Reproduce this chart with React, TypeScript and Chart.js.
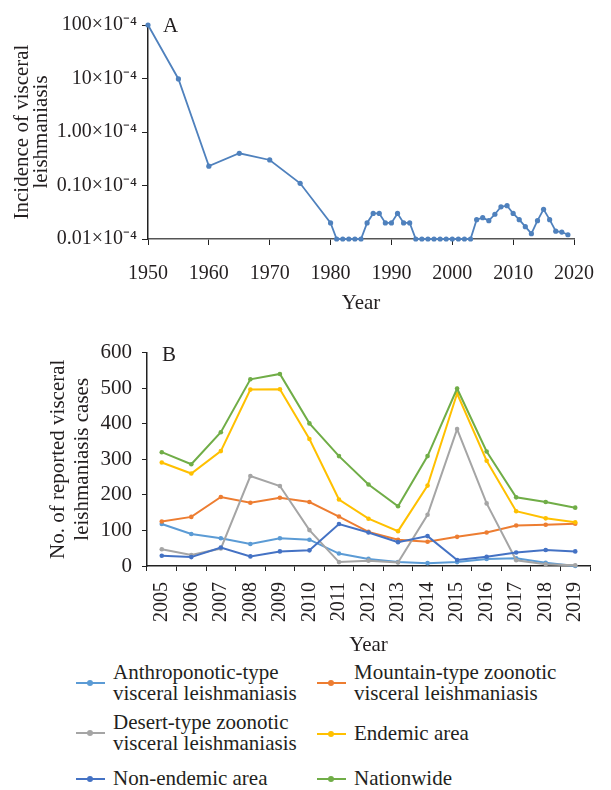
import React, { useEffect, useRef } from 'react';
import { Chart, registerables } from 'chart.js';

Chart.register(...registerables);

const FONT = '"Liberation Serif", "Times New Roman", serif';
const TEXT = '#231f20';
const AXIS = '#222222';

// ---------- Panel A data ----------
const yearsA = [
  1950, 1955, 1960, 1965, 1970, 1975, 1980,
  1981, 1982, 1983, 1984, 1985,
  1986, 1987, 1988, 1989, 1990, 1991, 1992, 1993,
  1994, 1995, 1996, 1997, 1998, 1999, 2000, 2001, 2002, 2003,
  2004, 2005, 2006, 2007, 2008, 2009, 2010, 2011, 2012, 2013, 2014, 2015, 2016, 2017, 2018, 2019,
];
// incidence in units of 1/10 000
const incidenceA = [
  100, 9.8, 0.23, 0.40, 0.30, 0.11, 0.02,
  0, 0, 0, 0, 0,
  0.02, 0.03, 0.03, 0.02, 0.02, 0.03, 0.02, 0.02,
  0, 0, 0, 0, 0, 0, 0, 0, 0, 0,
  0.023, 0.025, 0.022, 0.029, 0.040, 0.042, 0.030, 0.023, 0.017, 0.0126, 0.022, 0.036, 0.023, 0.014, 0.0135, 0.012,
];
const logTickValues = [0.01, 0.1, 1, 10, 100];
const logTickLabels = ['0.01×10⁻⁴', '0.10×10⁻⁴', '1.00×10⁻⁴', '10×10⁻⁴', '100×10⁻⁴'];
const LOG_MIN = 0.01;
const LOG_MAX = 100;
const xMinA = 1950;
const xMaxA = 2020;
const yTitleA = ['Incidence of visceral', 'leishmaniasis'];

// ---------- Panel B data ----------
const yearsB = ['2005', '2006', '2007', '2008', '2009', '2010', '2011', '2012', '2013', '2014', '2015', '2016', '2017', '2018', '2019'];
const anthroponotic = [118, 90, 78, 62, 78, 74, 35, 20, 11, 8, 11, 20, 22, 9, 0];
const mountainType = [125, 138, 194, 178, 192, 180, 139, 96, 74, 68, 82, 94, 114, 116, 119];
const desertType = [47, 31, 49, 253, 225, 101, 11, 15, 10, 144, 385, 176, 16, 5, 2];
const endemicArea = [291, 260, 323, 496, 497, 357, 187, 133, 98, 226, 485, 296, 154, 134, 123];
const nonEndemicArea = [29, 25, 52, 27, 41, 44, 118, 94, 67, 84, 17, 26, 38, 45, 41];
const nationwide = [320, 286, 376, 525, 540, 401, 309, 229, 168, 309, 499, 322, 193, 180, 164];
const yTitleB = ['No. of reported visceral', 'leishmaniasis cases'];

const seriesNames = [
  ['Anthroponotic-type', 'visceral leishmaniasis'],
  ['Mountain-type zoonotic', 'visceral leishmaniasis'],
  ['Desert-type zoonotic', 'visceral leishmaniasis'],
  ['Endemic area'],
  ['Non-endemic area'],
  ['Nationwide'],
];
const seriesColors = ['#5B9BD5', '#ED7D31', '#A5A5A5', '#FFC000', '#4472C4', '#70AD47'];
const seriesValues = [anthroponotic, mountainType, desertType, endemicArea, nonEndemicArea, nationwide];

function panelLabel(text: string, dx: number, dy: number) {
  return {
    id: 'panelLabel' + text,
    afterDraw(chart: any) {
      const { ctx, chartArea } = chart;
      ctx.save();
      ctx.font = `21px ${FONT}`;
      ctx.fillStyle = TEXT;
      ctx.textBaseline = 'middle';
      ctx.textAlign = 'left';
      ctx.fillText(text, chartArea.left + dx, chartArea.top + dy);
      ctx.restore();
    },
  };
}

// vertical (rotated) multi-line y-axis title; xs are the line centres from the canvas' left edge
function yTitle(lines: string[], xs: number[]) {
  return {
    id: 'yTitle',
    afterDraw(chart: any) {
      const { ctx, chartArea } = chart;
      const cy = (chartArea.top + chartArea.bottom) / 2;
      ctx.save();
      ctx.font = `21px ${FONT}`;
      ctx.fillStyle = TEXT;
      ctx.textBaseline = 'middle';
      ctx.textAlign = 'center';
      lines.forEach((line, i) => {
        ctx.save();
        ctx.translate(xs[i], cy);
        ctx.rotate(-Math.PI / 2);
        ctx.fillText(line, 0, 0);
        ctx.restore();
      });
      ctx.restore();
    },
  };
}

function ChartA() {
  const ref = useRef<HTMLCanvasElement>(null);
  useEffect(() => {
    const data = yearsA.map((y, i) => ({ x: y, y: incidenceA[i] > 0 ? incidenceA[i] : LOG_MIN }));
    const chart = new Chart(ref.current as HTMLCanvasElement, {
      type: 'line',
      data: {
        datasets: [
          {
            data,
            borderColor: '#4F81BD',
            backgroundColor: '#4F81BD',
            borderWidth: 1.8,
            pointRadius: 2.6,
            pointBorderWidth: 0,
            pointHoverRadius: 0,
            tension: 0,
            clip: false as any,
          },
        ],
      },
      options: {
        responsive: false,
        animation: false,
        events: [],
        layout: { padding: { left: 0, right: 21, top: 25, bottom: 0 } },
        plugins: { legend: { display: false }, tooltip: { enabled: false } },
        scales: {
          x: {
            type: 'linear',
            min: xMinA,
            max: xMaxA,
            afterFit: (s: any) => { s.height = 91; },
            afterBuildTicks: (s: any) => {
              const t = [];
              for (let v = xMinA; v <= xMaxA; v += 10) t.push({ value: v });
              s.ticks = t;
            },
            ticks: {
              callback: (v: any) => String(v),
              color: TEXT,
              font: { family: FONT, size: 20 },
              padding: 17,
              maxRotation: 0,
            },
            grid: { display: true, drawOnChartArea: false, drawTicks: true, tickLength: 6, color: AXIS },
            border: { display: true, color: '#555', width: 1.5 },
            title: {
              display: true,
              text: 'Year',
              color: TEXT,
              font: { family: FONT, size: 21 },
              padding: { top: 0, bottom: 14 },
            },
          },
          y: {
            type: 'logarithmic',
            min: LOG_MIN,
            max: LOG_MAX,
            afterFit: (s: any) => { s.width = 148; },
            afterBuildTicks: (s: any) => { s.ticks = logTickValues.map((v) => ({ value: v })); },
            ticks: {
              callback: (v: any) => {
                const i = logTickValues.findIndex((t) => Math.abs(Math.log10(t) - Math.log10(v)) < 1e-6);
                return i >= 0 ? logTickLabels[i] : '';
              },
              color: TEXT,
              font: { family: FONT, size: 20 },
              padding: 5,
            },
            grid: { display: true, drawOnChartArea: false, drawTicks: true, tickLength: 6, color: AXIS },
            border: { display: true, color: AXIS, width: 1.5 },
            title: { display: false },
          },
        },
      },
      plugins: [panelLabel('A', 15, 1), yTitle(yTitleA, [22, 41])],
    } as any);
    return () => chart.destroy();
  }, []);
  return <canvas ref={ref} width={611} height={330} style={{ display: 'block', width: 611, height: 330 }} />;
}

function ChartB() {
  const ref = useRef<HTMLCanvasElement>(null);
  useEffect(() => {
    const datasets = seriesValues.map((vals, i) => ({
      label: seriesNames[i].join(' '),
      data: vals,
      borderColor: seriesColors[i],
      backgroundColor: seriesColors[i],
      borderWidth: 2,
      pointRadius: 2.3,
      pointBorderWidth: 0,
      pointHoverRadius: 0,
      tension: 0,
      clip: false as any,
      order: 6 - i,
    }));
    const chart = new Chart(ref.current as HTMLCanvasElement, {
      type: 'line',
      data: { labels: yearsB, datasets },
      options: {
        responsive: false,
        animation: false,
        events: [],
        layout: { padding: { left: 0, right: 21, top: 20, bottom: 0 } },
        plugins: { legend: { display: false }, tooltip: { enabled: false } },
        scales: {
          x: {
            type: 'category',
            offset: true,
            afterFit: (s: any) => { s.height = 94; },
            ticks: {
              color: TEXT,
              font: { family: FONT, size: 20 },
              padding: 11,
              minRotation: 90,
              maxRotation: 90,
              autoSkip: false,
            },
            grid: { display: true, offset: true, drawOnChartArea: false, drawTicks: true, tickLength: 5, color: AXIS },
            border: { display: true, color: AXIS, width: 1.5 },
            title: {
              display: true,
              text: 'Year',
              color: TEXT,
              font: { family: FONT, size: 21 },
              padding: { top: 0, bottom: 2 },
            },
          },
          y: {
            type: 'linear',
            min: 0,
            max: 600,
            afterFit: (s: any) => { s.width = 147; },
            ticks: {
              stepSize: 100,
              color: TEXT,
              font: { family: FONT, size: 21 },
              padding: 10,
            },
            grid: { display: true, drawOnChartArea: false, drawTicks: true, tickLength: 5, color: AXIS },
            border: { display: true, color: AXIS, width: 1.5 },
            title: { display: false },
          },
        },
      },
      plugins: [panelLabel('B', 15, 3), yTitle(yTitleB, [58, 82])],
    } as any);
    return () => chart.destroy();
  }, []);
  return <canvas ref={ref} width={611} height={330} style={{ display: 'block', width: 611, height: 330 }} />;
}

function LegendItem({ idx, left, top }: { idx: number; left: number; top: number }) {
  const lines = seriesNames[idx];
  const color = seriesColors[idx];
  const h = lines.length * 21;
  return (
    <div style={{ position: 'absolute', left, top, height: h, display: 'flex', alignItems: 'center' }}>
      <div style={{ position: 'relative', width: 29, height: 8, marginRight: 8 }}>
        <div style={{ position: 'absolute', left: 0, right: 0, top: 3, height: 2, background: color }} />
        <div style={{ position: 'absolute', left: 11, top: 1, width: 6, height: 6, borderRadius: 3, background: color }} />
      </div>
      <div style={{ fontFamily: FONT, fontSize: 21, lineHeight: '21px', color: TEXT, whiteSpace: 'nowrap' }}>
        {lines.map((l, i) => (
          <div key={i}>{l}</div>
        ))}
      </div>
    </div>
  );
}

export default function App() {
  return (
    <div style={{ position: 'absolute', left: 0, top: 0, width: 611, height: 790, background: '#fff', overflow: 'hidden' }}>
      <div style={{ position: 'absolute', left: 0, top: 0 }}>
        <ChartA />
      </div>
      <div style={{ position: 'absolute', left: 0, top: 330 }}>
        <ChartB />
      </div>
      <LegendItem idx={0} left={76} top={662} />
      <LegendItem idx={1} left={317} top={662} />
      <LegendItem idx={2} left={76} top={712} />
      <LegendItem idx={3} left={317} top={723} />
      <LegendItem idx={4} left={76} top={768} />
      <LegendItem idx={5} left={317} top={768} />
    </div>
  );
}
